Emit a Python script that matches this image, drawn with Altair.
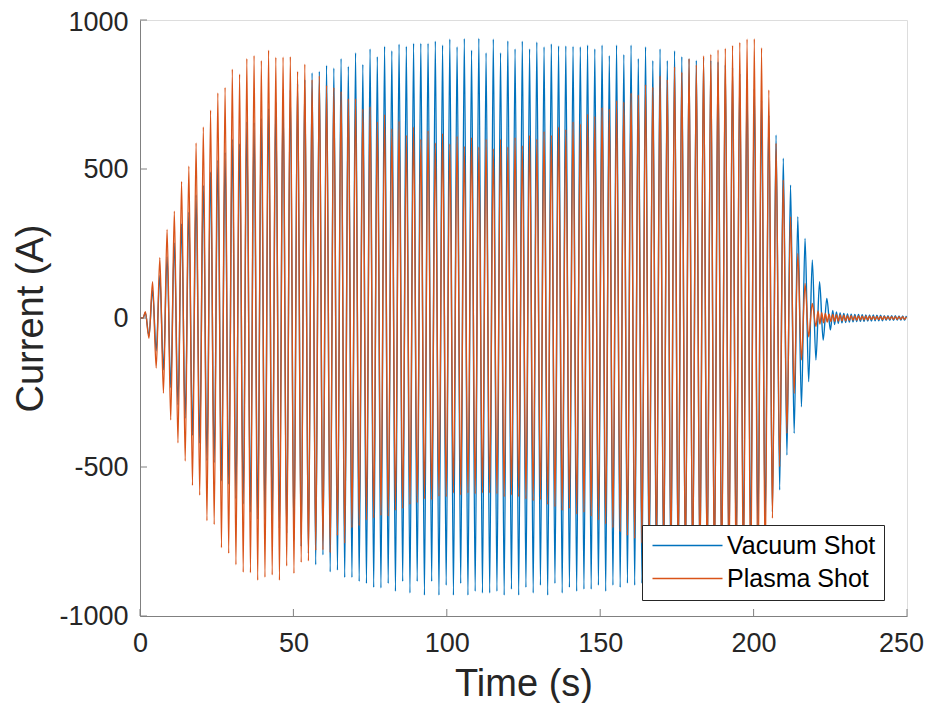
import altair as alt
import pandas as pd

# ---- peak times (s): tops and bottoms of each cycle ----
top_t = [1.74, 4.10, 6.46, 8.83, 11.19, 13.55, 15.92, 18.28, 20.64, 23.00, 25.37, 27.73,
         30.09, 32.46, 34.82, 37.18, 39.55, 41.91, 44.27, 46.63, 49.00, 51.36, 53.72,
         56.09, 58.45, 60.81, 63.18, 65.54, 67.90, 70.26, 72.63, 74.99, 77.35, 79.72,
         82.08, 84.44, 86.81, 89.17, 91.53, 93.89, 96.26, 98.62, 100.98, 103.35, 105.71,
         108.07, 110.44, 112.80, 115.16, 117.52, 119.89, 122.25, 124.61, 126.98, 129.34,
         131.70, 134.07, 136.43, 138.79, 141.15, 143.52, 145.88, 148.24, 150.61, 152.97,
         155.33, 157.70, 160.06, 162.42, 164.78, 167.15, 169.51, 171.87, 174.24, 176.60,
         178.96, 181.33, 183.69, 186.05, 188.41, 190.78, 193.14, 195.50, 197.87, 200.23,
         202.59, 204.96, 207.32, 209.68, 212.04, 214.41, 216.77, 219.13, 221.50, 223.86]
bot_t = [2.92, 5.28, 7.64, 10.01, 12.37, 14.73, 17.10, 19.46, 21.82, 24.18, 26.55, 28.91,
         31.27, 33.64, 36.00, 38.36, 40.73, 43.09, 45.45, 47.81, 50.18, 52.54, 54.90,
         57.27, 59.63, 61.99, 64.36, 66.72, 69.08, 71.44, 73.81, 76.17, 78.53, 80.90,
         83.26, 85.62, 87.99, 90.35, 92.71, 95.07, 97.44, 99.80, 102.16, 104.53, 106.89,
         109.25, 111.62, 113.98, 116.34, 118.70, 121.07, 123.43, 125.79, 128.16, 130.52,
         132.88, 135.25, 137.61, 139.97, 142.33, 144.70, 147.06, 149.42, 151.79, 154.15,
         156.51, 158.88, 161.24, 163.60, 165.96, 168.33, 170.69, 173.05, 175.42, 177.78,
         180.14, 182.51, 184.87, 187.23, 189.59, 191.96, 194.32, 196.68, 199.05, 201.41,
         203.77, 206.14, 208.50, 210.86, 213.22, 215.59, 217.95, 220.31, 222.68, 225.04]

# ---- Vacuum shot peaks (A) ----
vac_top = [18, 94, 142, 205, 252, 316, 355, 413, 445, 490, 529, 555, 600, 585, 658, 655,
           670, 703, 725, 745, 765, 785, 800, 823, 828, 848, 839, 871, 845, 890, 851, 903,
           877, 912, 897, 919, 912, 922, 922, 922, 929, 916, 936, 910, 938, 899, 939, 890,
           936, 890, 930, 903, 929, 903, 926, 910, 920, 913, 913, 912, 910, 916, 903, 916,
           881, 916, 884, 916, 871, 910, 864, 903, 864, 897, 877, 871, 865, 873, 865, 860,
           850, 840, 820, 800, 770, 730, 680, 614, 536, 446, 340, 267, 195, 122, 66]
vac_bot = [-60, -110, -174, -233, -291, -336, -394, -420, -478, -485, -547, -558, -606,
           -624, -652, -675, -678, -690, -705, -722, -745, -767, -790, -828, -795, -852,
           -846, -871, -871, -884, -891, -904, -906, -891, -917, -884, -923, -884, -930,
           -884, -930, -897, -930, -891, -930, -917, -923, -923, -917, -930, -910, -930,
           -904, -923, -897, -930, -891, -923, -904, -917, -910, -910, -897, -917, -897,
           -904, -890, -897, -890, -885, -880, -880, -875, -870, -865, -860, -855, -850,
           -840, -830, -820, -800, -780, -760, -730, -700, -650, -577, -460, -387, -298,
           -214, -141, -74, -40]

# ---- Plasma shot peaks (A) ----
pla_top = [21, 122, 202, 297, 358, 458, 509, 587, 641, 697, 755, 774, 835, 819, 871, 881,
           864, 899, 875, 876, 877, 828, 852, 800, 813, 781, 774, 761, 736, 736, 701, 709,
           658, 683, 635, 660, 613, 641, 600, 628, 587, 619, 584, 610, 576, 606, 574, 600,
           568, 600, 574, 606, 578, 613, 600, 626, 613, 641, 632, 658, 651, 684, 677, 706,
           701, 729, 725, 755, 749, 783, 775, 813, 800, 843, 825, 871, 850, 880, 885, 900,
           905, 915, 925, 936, 937, 907, 765, 586, 463, 340, 217, 116, 49]
pla_bot = [-68, -168, -252, -342, -419, -480, -562, -595, -680, -693, -771, -790, -828,
           -853, -855, -880, -870, -862, -880, -832, -857, -820, -815, -780, -778, -788,
           -730, -756, -704, -697, -678, -671, -663, -665, -646, -639, -626, -620, -607,
           -610, -598, -600, -587, -594, -587, -590, -587, -587, -590, -600, -594, -600,
           -607, -613, -610, -626, -633, -646, -639, -658, -652, -665, -678, -691, -704,
           -717, -730, -740, -755, -765, -780, -790, -805, -815, -830, -840, -855, -865,
           -880, -890, -905, -915, -925, -940, -944, -850, -672, -499, -387, -253, -141,
           -63, -29]

# ---- flat start and ringing tail ----
start_t = [0.0, 1.0]
start_v = [0, 0]
ripple_t = [221.0, 221.6, 222.2, 222.8, 223.4, 224.0, 224.6, 225.2, 225.8, 226.4, 227.0,
            227.6, 228.2, 228.8, 229.4, 230.0, 230.6, 231.2, 231.8, 232.4, 233.0, 233.6,
            234.2, 234.8, 235.4, 236.0, 236.6, 237.2, 237.8, 238.4, 239.0, 239.6, 240.2,
            240.8, 241.4, 242.0, 242.6, 243.2, 243.8, 244.4, 245.0, 245.6, 246.2, 246.8,
            247.4, 248.0, 248.6, 249.2, 249.8]
pla_ripple = [24, -20, 18, -16, 15, -14, 13, -12, 12, -11, 11, -10, 10, -9, 9, -9, 8, -8,
              8, -7, 7, -7, 7, -6, 6, -6, 6, -6, 6, -5, 5, -5, 5, -5, 5, -5, 5, -4, 4, -4,
              4, -4, 4, -4, 4, -4, 4, -4, 4]
vac_ripple = [25, -22, 20, -18, 17, -16, 15, -15, 14, -14, 13, -13, 12, -12, 12, -11, 11,
              -11, 10, -10, 10, -10, 10, -9, 9, -9, 9, -9, 8, -8, 8, -8, 8, -8, 8, -7, 7,
              -7, 7, -7, 7]

y_ticks = [-1000, -500, 0, 500, 1000]
x_ticks = [0, 50, 100, 150, 200, 250]

series_names = ["Vacuum Shot", "Plasma Shot"]
series_colors = ["#0072BD", "#D95319"]

assert len(top_t) == len(bot_t) == len(vac_top) == len(vac_bot)
assert len(pla_top) == len(pla_bot)
assert len(pla_ripple) == len(ripple_t)

rows = []


def add(name, ts, vs):
    for t, v in zip(ts, vs):
        rows.append({"series": name, "t": t, "current": v})


add("Vacuum Shot", start_t, start_v)
add("Vacuum Shot", top_t, vac_top)
add("Vacuum Shot", bot_t, vac_bot)
add("Vacuum Shot", ripple_t[len(ripple_t) - len(vac_ripple):], vac_ripple)
add("Plasma Shot", start_t, start_v)
add("Plasma Shot", top_t, pla_top)
add("Plasma Shot", bot_t, pla_bot)
add("Plasma Shot", ripple_t, pla_ripple)

df = pd.DataFrame(rows).sort_values(["series", "t"])

FONT = "Liberation Sans"
AX = "#262626"

x_enc = alt.X("t:Q", title="Time (s)",
              scale=alt.Scale(domain=[0, 250], nice=False, zero=False),
              axis=alt.Axis(values=x_ticks, ticks=False, tickSize=0, grid=False,
                            labelExpr="datum.value + ''",
                            labelOffset={"condition": {"test": "datum.value == 250", "value": -6},
                                         "value": 0},
                            labelFont=FONT, labelFontSize=27, labelColor=AX,
                            labelPadding=14, domainColor="#808080", domainWidth=1,
                            titleFont=FONT, titleFontSize=38, titleFontWeight="normal",
                            titleColor=AX, titleBaseline="alphabetic", titleY=79,
                            labelFlush=False, labelOverlap=False))
y_enc = alt.Y("current:Q", title="Current (A)",
              scale=alt.Scale(domain=[-1000, 1000], nice=False, zero=False),
              axis=alt.Axis(values=y_ticks, ticks=False, tickSize=0, grid=False,
                            labelExpr="datum.value + ''",
                            labelOffset={"condition": {"test": "datum.value == 1000", "value": 2},
                                         "value": 0},
                            labelFont=FONT, labelFontSize=27, labelColor=AX,
                            labelPadding=12, domainColor="#808080", domainWidth=1,
                            titleFont=FONT, titleFontSize=38, titleFontWeight="normal",
                            titleColor=AX, titleBaseline="alphabetic", titleX=-98,
                            titleY=298, titleAngle=270, labelFlush=False,
                            labelOverlap=False))

color_enc = alt.Color("series:N",
                      scale=alt.Scale(domain=series_names, range=series_colors),
                      legend=alt.Legend(orient="none", legendX=502, legendY=505, title=None,
                                        symbolType="M-2,0H12", symbolSize=100,
                                        symbolStrokeWidth=1.5, labelFont=FONT,
                                        labelFontSize=25, labelColor="black",
                                        labelOffset=52, padding=8, rowPadding=7,
                                        fillColor="white", strokeColor="#262626"))

vac = alt.Chart(df[df.series == "Vacuum Shot"]).mark_line(
    strokeWidth=1.4, interpolate="monotone").encode(x=x_enc, y=y_enc, color=color_enc)
pla = alt.Chart(df[df.series == "Plasma Shot"]).mark_line(
    strokeWidth=1.4, interpolate="monotone").encode(x=x_enc, y=y_enc, color=color_enc)

yt = alt.Chart(pd.DataFrame({"current": y_ticks})).mark_rule(color="#808080", strokeWidth=1).encode(
    y=alt.Y("current:Q", title="Current (A)"), x=alt.value(0), x2=alt.value(7))
xt = alt.Chart(pd.DataFrame({"t": x_ticks})).mark_rule(color="#808080", strokeWidth=1).encode(
    x=alt.X("t:Q", title="Time (s)"), y=alt.value(596), y2=alt.value(589))

chart = alt.layer(vac, pla, yt, xt).properties(
    width=767, height=596,
    autosize=alt.AutoSizeParams(type="none"),
    padding={"left": 132, "top": 12, "right": 18, "bottom": 87},
).configure_view(stroke=None).configure(background="white")

chart.save("out.html", embed_options={"renderer": "svg", "actions": False})
